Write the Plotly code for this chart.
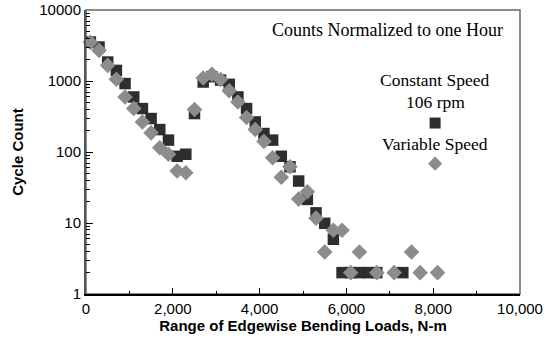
import plotly.graph_objects as go

# ---- data ----
const_x = [100, 300, 500, 700, 900, 1100, 1300, 1500, 1700, 1900, 2100, 2300,
           2500, 2700, 2900, 3100, 3300, 3500, 3700, 3900, 4100, 4300, 4500,
           4700, 4900, 5100, 5300, 5500, 5700, 5900, 6100, 6300, 6500, 6700, 7300]
const_y = [3540, 3010, 1850, 1410, 920, 596, 409, 296, 207, 147, 87, 93,
           348, 968, 1150, 1030, 898, 596, 409, 265, 182, 147, 87,
           62, 39, 21.5, 13.9, 9.9, 5.9, 2, 2, 2, 2, 2, 2]

var_x = [100, 300, 500, 700, 900, 1100, 1300, 1500, 1700, 1900, 2100, 2300,
         2500, 2700, 2900, 3100, 3300, 3500, 3700, 3900, 4100, 4300, 4500,
         4700, 4900, 5100, 5300, 5500, 5700, 5900, 6100, 6300, 6700, 7100,
         7500, 7700, 8100]
var_y = [3500, 2700, 1660, 1057, 596, 409, 265, 186, 115, 93, 54, 51,
         396, 1100, 1242, 1050, 728, 507, 306, 207, 141, 83, 44,
         62, 21.7, 27.5, 11.7, 3.9, 7.9, 7.9, 2, 3.9, 2, 2,
         3.9, 2, 2]

x_ticks = [0, 2000, 4000, 6000, 8000, 10000]
y_ticks = [1, 10, 100, 1000, 10000]
y_tick_text = ["1", "10", "100", "1000", "10000"]
y_minor = [m * 10 ** k for k in range(4) for m in range(2, 10)]

SQ_COLOR = "#2e2e2e"
DM_COLOR = "#8c8c8c"
SANS = "Liberation Sans, Arial, sans-serif"
SERIF = "Liberation Serif, Times New Roman, serif"

fig = go.Figure()
fig.add_trace(go.Scatter(x=const_x, y=const_y, mode="markers", name="Constant Speed 106 rpm",
                         marker=dict(symbol="square", size=11.5, color=SQ_COLOR, line=dict(width=0)),
                         cliponaxis=False, showlegend=False))
fig.add_trace(go.Scatter(x=var_x, y=var_y, mode="markers", name="Variable Speed",
                         marker=dict(symbol="diamond", size=12, color=DM_COLOR, line=dict(width=0)),
                         cliponaxis=False, showlegend=False))

# legend keys on an overlaid fraction axis
fig.add_trace(go.Scatter(x=[0.8044], y=[0.602], xaxis="x2", yaxis="y2", mode="markers",
                         marker=dict(symbol="square", size=11, color=SQ_COLOR), showlegend=False,
                         hoverinfo="skip"))
fig.add_trace(go.Scatter(x=[0.8044], y=[0.459], xaxis="x2", yaxis="y2", mode="markers",
                         marker=dict(symbol="diamond", size=11, color=DM_COLOR), showlegend=False,
                         hoverinfo="skip"))

fig.update_layout(
    width=547, height=345,
    margin=dict(l=85.5, r=27, t=9.5, b=51, autoexpand=False),
    paper_bgcolor="white", plot_bgcolor="white",
    font=dict(family=SANS, size=15, color="black"),
    xaxis=dict(range=[0, 10000], tickvals=x_ticks, tickformat=",d", automargin=False,
               ticks="inside", ticklen=6, tickwidth=1, tickcolor="black",
               minor=dict(ticks="inside", ticklen=3, dtick=1000, tickcolor="black"),
               showgrid=False, zeroline=False,
               showline=True, linecolor="black", linewidth=2,
               tickfont=dict(family=SANS, size=15),
               title=dict(text="<b>Range of Edgewise Bending Loads, N-m</b>",
                          font=dict(family=SANS, size=15), standoff=2)),
    yaxis=dict(type="log", range=[0, 4], tickvals=y_ticks, ticktext=y_tick_text, automargin=False,
               ticks="inside", ticklen=7, tickwidth=1, tickcolor="black",
               minor=dict(ticks="inside", ticklen=4, tickvals=y_minor, tickcolor="black"),
               showgrid=False, zeroline=False,
               showline=True, linecolor="#555555", linewidth=2,
               tickfont=dict(family=SANS, size=15),
               title=dict(text="<b>Cycle Count</b>", font=dict(family=SANS, size=15), standoff=12)),
    xaxis2=dict(range=[0, 1], overlaying="x", visible=False, fixedrange=True),
    yaxis2=dict(range=[0, 1], overlaying="y", visible=False, fixedrange=True),
    shapes=[dict(type="rect", xref="paper", yref="paper", x0=0, y0=0, x1=1, y1=1,
                 line=dict(color="#666666", width=1.5), layer="below")],
    annotations=[
        dict(text="Counts Normalized to one Hour", xref="paper", yref="paper",
             x=0.694, y=0.928, showarrow=False, xanchor="center", yanchor="middle",
             font=dict(family=SERIF, size=18)),
        dict(text="Constant Speed", xref="paper", yref="paper",
             x=0.8044, y=0.752, showarrow=False, xanchor="center", yanchor="middle",
             font=dict(family=SERIF, size=17.5)),
        dict(text="106 rpm", xref="paper", yref="paper",
             x=0.8044, y=0.676, showarrow=False, xanchor="center", yanchor="middle",
             font=dict(family=SERIF, size=17.5)),
        dict(text="Variable Speed", xref="paper", yref="paper",
             x=0.8044, y=0.527, showarrow=False, xanchor="center", yanchor="middle",
             font=dict(family=SERIF, size=17.5)),
    ],
)

fig.write_html("out.html")
